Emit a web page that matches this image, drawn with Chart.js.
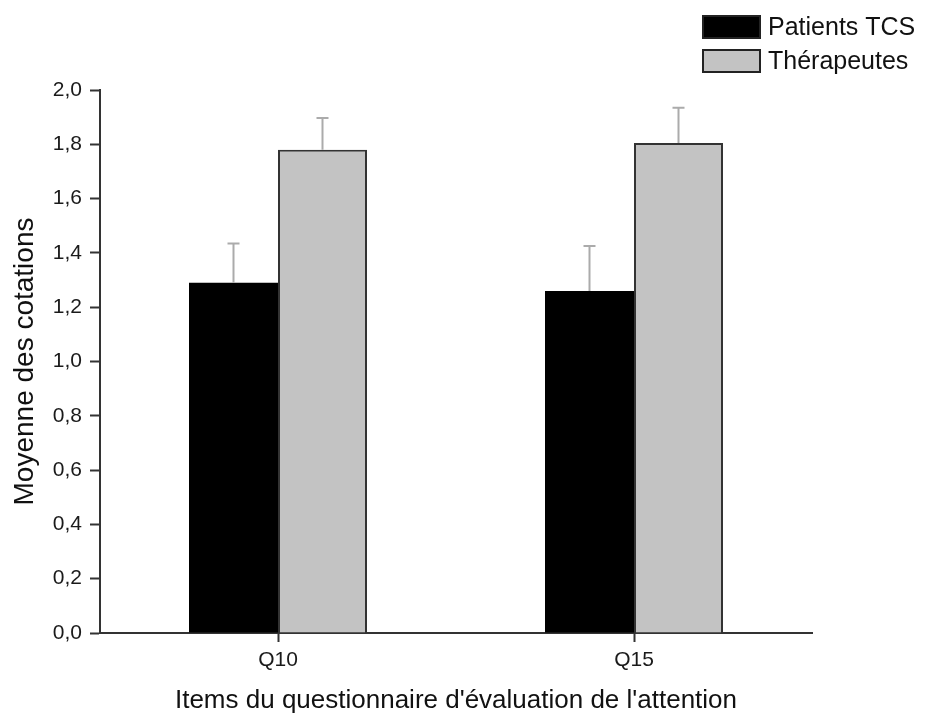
<!DOCTYPE html>
<html>
<head>
<meta charset="utf-8">
<script src="https://cdn.jsdelivr.net/npm/chart.js@4.4.0/dist/chart.umd.min.js"></script>
<style>
  html, body { margin: 0; padding: 0; background: #fff; }
  canvas { display: block; }
</style>
</head>
<body>
<canvas id="chart" width="927" height="716"></canvas>
<script>
// Questionnaire items (x categories)
const categories = ['Q10', 'Q15'];

// Mean ratings per group
const patientsMeans = [1.29, 1.26];
const therapistsMeans = [1.78, 1.805];

// Standard errors (upper whiskers)
const patientsErrors = [0.145, 0.165];
const therapistsErrors = [0.117, 0.13];

const seriesLabels = ['Patients TCS', 'Thérapeutes'];
const yTicks = [0, 0.2, 0.4, 0.6, 0.8, 1.0, 1.2, 1.4, 1.6, 1.8, 2.0];

const FONT = '"Liberation Sans", Arial, sans-serif';
const AXIS_COLOR = '#333333';

// Draws an upper whisker with a small cap above each bar
const errorBarPlugin = {
  id: 'errorBars',
  afterDatasetsDraw(chart) {
    const ctx = chart.ctx;
    const yScale = chart.scales.y;
    chart.data.datasets.forEach((ds, i) => {
      const meta = chart.getDatasetMeta(i);
      meta.data.forEach((bar, j) => {
        const top = yScale.getPixelForValue(ds.data[j] + ds.errors[j]);
        ctx.save();
        ctx.strokeStyle = '#ababab';
        ctx.lineWidth = 2;
        ctx.beginPath();
        ctx.moveTo(bar.x, bar.y);
        ctx.lineTo(bar.x, top);
        ctx.moveTo(bar.x - 6, top);
        ctx.lineTo(bar.x + 6, top);
        ctx.stroke();
        ctx.restore();
      });
    });
  }
};

// Legend stacked in the top right corner
const cornerLegendPlugin = {
  id: 'cornerLegend',
  afterDraw(chart) {
    const ctx = chart.ctx;
    const x0 = 702, boxW = 59, boxH = 24, rowGap = 34, y0 = 15;
    ctx.save();
    chart.data.datasets.forEach((ds, i) => {
      const y = y0 + i * rowGap;
      ctx.fillStyle = ds.backgroundColor;
      ctx.fillRect(x0, y, boxW, boxH);
      ctx.strokeStyle = '#222';
      ctx.lineWidth = 2;
      ctx.strokeRect(x0 + 1, y + 1, boxW - 2, boxH - 2);
      ctx.fillStyle = '#111';
      ctx.font = '25px ' + FONT;
      ctx.textBaseline = 'middle';
      ctx.textAlign = 'left';
      ctx.fillText(ds.label, 768, y + boxH / 2 + 1);
    });
    ctx.restore();
  }
};

new Chart(document.getElementById('chart'), {
  type: 'bar',
  data: {
    labels: categories,
    datasets: [
      {
        label: seriesLabels[0],
        data: patientsMeans,
        errors: patientsErrors,
        backgroundColor: '#000000',
        borderColor: '#000000',
        borderWidth: 0
      },
      {
        label: seriesLabels[1],
        data: therapistsMeans,
        errors: therapistsErrors,
        backgroundColor: '#c3c3c3',
        borderColor: '#333333',
        borderWidth: 2
      }
    ]
  },
  options: {
    responsive: false,
    animation: false,
    events: [],
    categoryPercentage: 0.5,
    barPercentage: 1.0,
    layout: { padding: { left: 0, right: 115, top: 90, bottom: 0 } },
    plugins: {
      legend: { display: false },
      tooltip: { enabled: false }
    },
    scales: {
      x: {
        afterFit(scale) { scale.height = 83; },
        grid: {
          offset: false,
          drawOnChartArea: false,
          drawTicks: true,
          tickLength: 9,
          tickWidth: 2,
          tickColor: AXIS_COLOR
        },
        border: { display: true, color: AXIS_COLOR, width: 2 },
        ticks: {
          color: '#1a1a1a',
          padding: 6,
          font: { family: FONT, size: 21 }
        },
        title: {
          display: true,
          text: "Items du questionnaire d'évaluation de l'attention",
          color: '#111',
          font: { family: FONT, size: 26 },
          padding: { top: 0, bottom: 0 }
        }
      },
      y: {
        min: 0,
        max: 2,
        afterFit(scale) { scale.width = 100; },
        afterBuildTicks(scale) { scale.ticks = yTicks.map(v => ({ value: v })); },
        grid: {
          drawOnChartArea: false,
          drawTicks: true,
          tickLength: 10,
          tickWidth: 2,
          tickColor: AXIS_COLOR
        },
        border: { display: true, color: AXIS_COLOR, width: 2 },
        ticks: {
          color: '#1a1a1a',
          padding: 8,
          font: { family: FONT, size: 21 },
          callback: v => (Math.round(v * 10) / 10).toFixed(1).replace('.', ',')
        },
        title: {
          display: true,
          text: 'Moyenne des cotations',
          color: '#111',
          font: { family: FONT, size: 28 },
          padding: { top: 8, bottom: 0 }
        }
      }
    }
  },
  plugins: [errorBarPlugin, cornerLegendPlugin]
});
</script>
</body>
</html>
